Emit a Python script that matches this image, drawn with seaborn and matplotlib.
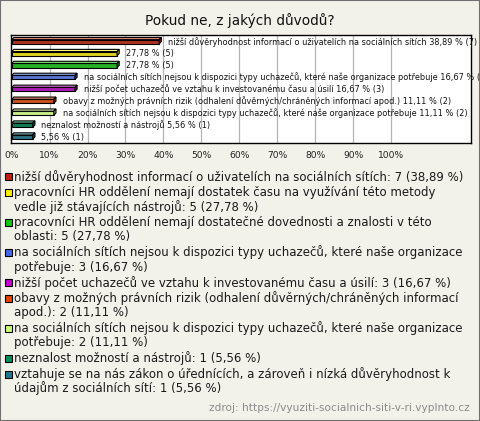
import matplotlib
matplotlib.use("Agg")
import matplotlib.pyplot as plt
import matplotlib.colors as mcolors
from matplotlib.patches import Polygon, Rectangle
import seaborn as sns
import pandas as pd

# ---------------- data ----------------
title = "Pokud ne, z jakých důvodů?"
row_ids = ["r1", "r2", "r3", "r4", "r5", "r6", "r7", "r8", "r9"]
percents = [38.89, 27.78, 27.78, 16.67, 16.67, 11.11, 11.11, 5.56, 5.56]
counts = [7, 5, 5, 3, 3, 2, 2, 1, 1]
bar_names = [
    "nižší důvěryhodnost informací o uživatelích na sociálních sítích",
    "",
    "",
    "na sociálních sítích nejsou k dispozici typy uchazečů, které naše organizace potřebuje",
    "nižší počet uchazečů ve vztahu k investovanému času a úsilí",
    "obavy z možných právních rizik (odhalení důvěrných/chráněných informací apod.)",
    "na sociálních sítích nejsou k dispozici typy uchazečů, které naše organizace potřebuje",
    "neznalost možností a nástrojů",
    "",
]
legend_labels = [
    "nižší důvěryhodnost informací o uživatelích na sociálních sítích: 7 (38,89 %)",
    "pracovníci HR oddělení nemají dostatek času na využívání této metody\nvedle již stávajících nástrojů: 5 (27,78 %)",
    "pracovníci HR oddělení nemají dostatečné dovednosti a znalosti v této\noblasti: 5 (27,78 %)",
    "na sociálních sítích nejsou k dispozici typy uchazečů, které naše organizace\npotřebuje: 3 (16,67 %)",
    "nižší počet uchazečů ve vztahu k investovanému času a úsilí: 3 (16,67 %)",
    "obavy z možných právních rizik (odhalení důvěrných/chráněných informací\napod.): 2 (11,11 %)",
    "na sociálních sítích nejsou k dispozici typy uchazečů, které naše organizace\npotřebuje: 2 (11,11 %)",
    "neznalost možností a nástrojů: 1 (5,56 %)",
    "vztahuje se na nás zákon o úřednících, a zároveň i nízká důvěryhodnost k\núdajům z sociálních sítí: 1 (5,56 %)",
]
colors = ["#c41e0c", "#ffee00", "#10c810", "#4468e8", "#c400d0",
          "#e64400", "#ccff77", "#00905a", "#1f7890"]
tick_values = [0, 10, 20, 30, 40, 50, 60, 70, 80, 90, 100]
tick_labels = ["0%", "10%", "20%", "30%", "40%", "50%", "60%", "70%", "80%", "90%", "100%"]
source = "zdroj: https://vyuziti-socialnich-siti-v-ri.vyplnto.cz"

df = pd.DataFrame({"row": row_ids, "pct": percents, "count": counts})

# ---------------- figure ----------------
W, H = 480, 421
bg = "#f3f2ea"
sns.set_theme(style="white")
plt.rcParams["font.family"] = ["DejaVu Sans"]
fig = plt.figure(figsize=(W / 100, H / 100), dpi=100, facecolor=bg)

def fx(px):
    return px / W

def fy(py):
    return 1 - py / H

ax_l, ax_r, ax_t, ax_b = 10.5, 471, 35, 143
ax = fig.add_axes([fx(ax_l), fy(ax_b), fx(ax_r - ax_l), (ax_b - ax_t) / H])
ax.set_facecolor("white")

sns.barplot(data=df, x="pct", y="row", hue="row", palette=colors, order=row_ids,
            hue_order=row_ids, orient="h", width=0.34, edgecolor="black",
            linewidth=0.8, legend=False, ax=ax, zorder=3)

ax.set_xlim(-0.3, 121.1)
ax.set_ylim(8.5, -0.56)

# gridlines
for t in tick_values[1:]:
    ax.axvline(t, color="#b4b4b4", lw=0.9, zorder=1)

ax.set_xticks(tick_values)
ax.set_xticklabels(tick_labels, fontsize=6.6, color="#222222")
ax.tick_params(axis="x", length=0, pad=5.5)
ax.set_yticks([])
ax.set_xlabel("")
ax.set_ylabel("")
for s in ax.spines.values():
    s.set_visible(True)
    s.set_color("black")
    s.set_linewidth(1.0)

# 3D faces derived from bar geometry
fig.canvas.draw()
to_data = ax.transData.inverted()
p0 = to_data.transform((0, 0))
p1 = to_data.transform((2.2, 2.2))
dx = p1[0] - p0[0]
dy = p1[1] - p0[1]  # negative (inverted y)
for patch, col in zip(ax.patches, colors):
    x0 = patch.get_x()
    w = patch.get_width()
    y0 = patch.get_y()
    h = patch.get_height()
    x1 = x0 + w
    ytop = min(y0, y0 + h)
    ybot = max(y0, y0 + h)
    light = mcolors.to_rgb(col)
    light = tuple(c + (1 - c) * 0.45 for c in light)
    dark = tuple(c * 0.7 for c in mcolors.to_rgb(col))
    top = Polygon([(x0, ytop), (x1, ytop), (x1 + dx, ytop + dy), (x0 + dx, ytop + dy)],
                  closed=True, facecolor=light, edgecolor="black", lw=0.8, zorder=3)
    side = Polygon([(x1, ytop), (x1, ybot), (x1 + dx, ybot + dy), (x1 + dx, ytop + dy)],
                   closed=True, facecolor=dark, edgecolor="black", lw=0.8, zorder=3)
    ax.add_patch(top)
    ax.add_patch(side)

# bar labels
for i, (name, p, c) in enumerate(zip(bar_names, percents, counts)):
    txt = f"{p:.2f}".replace(".", ",") + f" % ({c})"
    if name:
        txt = name + " " + txt
    ax.annotate(txt, xy=(p, i), xytext=(6.3, 0), textcoords="offset points",
                va="center", ha="left", fontsize=5.9, color="#111111",
                annotation_clip=False, zorder=4)

# title
fig.text(0.5, fy(21), title, ha="center", va="center", fontsize=9.8, color="#111111")

# legend
y = 176.7
for lab, col in zip(legend_labels, colors):
    lines = lab.split("\n")
    fig.patches.append(Rectangle((fx(5), fy(y + 3.5)), fx(7), 7 / H, transform=fig.transFigure,
                                 facecolor=col, edgecolor="black", lw=0.8))
    for j, line in enumerate(lines):
        fig.text(fx(14), fy(y), line, ha="left", va="center", fontsize=8.5, color="#1a1a1a")
        if j < len(lines) - 1:
            y += 14.5
    y += 15.6

fig.text(fx(470), fy(408), source, ha="right", va="center", fontsize=7.55, color="#8a8a8a")

# outer frame
fig.patches.append(Rectangle((0.001, 0.001), 0.998, 0.998, transform=fig.transFigure,
                             facecolor="none", edgecolor="#707070", lw=1.5))

fig.savefig("out.png", dpi=100, facecolor=bg)
